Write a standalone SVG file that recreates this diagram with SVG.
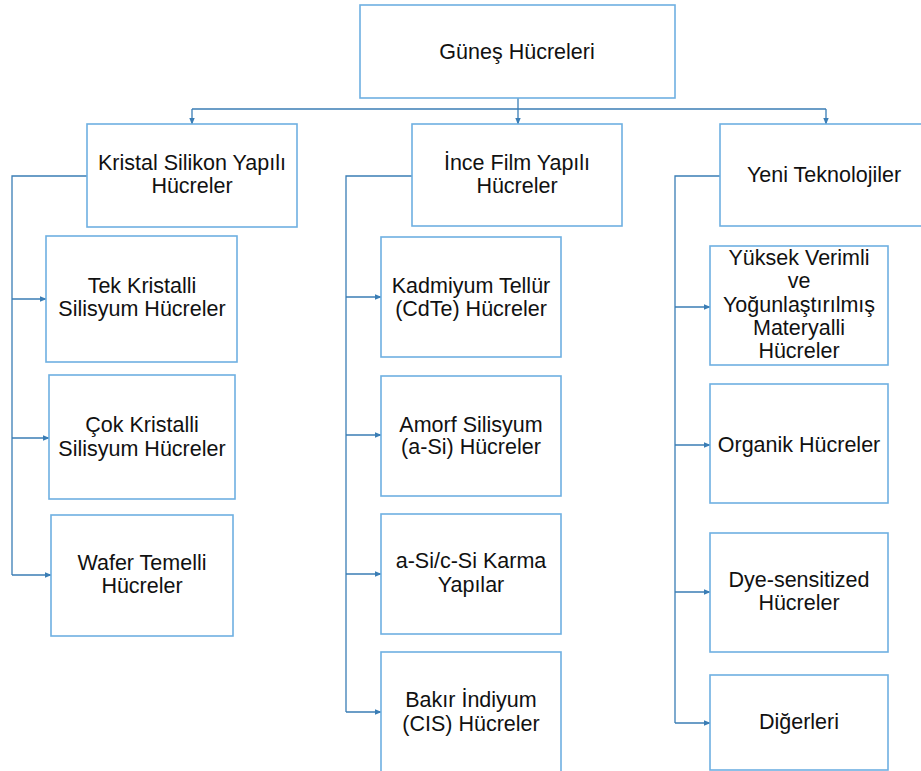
<svg xmlns="http://www.w3.org/2000/svg" width="921" height="771" viewBox="0 0 921 771">
<defs>
<style>
.box{fill:#ffffff;stroke:#6EB0E2;stroke-width:1.6}
.t{font-family:"Liberation Sans",Arial,sans-serif;font-size:21.5px;fill:#111;text-anchor:middle}
.c{fill:none;stroke:#3A7DB5;stroke-width:1.3}
</style>
<marker id="ar" viewBox="0 0 10 10" refX="9" refY="5" markerWidth="7" markerHeight="7" markerUnits="userSpaceOnUse" orient="auto">
<path d="M0,1 L10,5 L0,9 z" fill="#3A7DB5"/>
</marker>
</defs>
<rect width="921" height="771" fill="#ffffff"/>

<g id="connectors">
<path class="c" d="M518,98 V109"/>
<path class="c" d="M192,109 H826"/>
<path class="c" d="M192,109 V124" marker-end="url(#ar)"/>
<path class="c" d="M518,109 V124" marker-end="url(#ar)"/>
<path class="c" d="M826,109 V124" marker-end="url(#ar)"/>

<path class="c" d="M87,176 H12 V575"/>
<path class="c" d="M12,299 H46" marker-end="url(#ar)"/>
<path class="c" d="M12,438 H49" marker-end="url(#ar)"/>
<path class="c" d="M12,575 H51" marker-end="url(#ar)"/>

<path class="c" d="M412,176 H346 V712"/>
<path class="c" d="M346,297 H381" marker-end="url(#ar)"/>
<path class="c" d="M346,435 H381" marker-end="url(#ar)"/>
<path class="c" d="M346,574 H381" marker-end="url(#ar)"/>
<path class="c" d="M346,712 H381" marker-end="url(#ar)"/>

<path class="c" d="M720,176 H675 V723"/>
<path class="c" d="M675,307 H710" marker-end="url(#ar)"/>
<path class="c" d="M675,445 H710" marker-end="url(#ar)"/>
<path class="c" d="M675,592 H710" marker-end="url(#ar)"/>
<path class="c" d="M675,723 H710" marker-end="url(#ar)"/>
</g>

<g id="root"><rect class="box" x="360" y="5" width="315" height="93"/><text class="t" x="517" y="59">Güneş Hücreleri</text></g>

<g id="kristal"><rect class="box" x="87" y="124" width="210" height="103"/><text class="t" x="192" y="170">Kristal Silikon Yapılı</text><text class="t" x="192" y="193">Hücreler</text></g>
<g id="ince"><rect class="box" x="412" y="124" width="210" height="102"/><text class="t" x="517" y="170">İnce Film Yapılı</text><text class="t" x="517" y="193">Hücreler</text></g>
<g id="yeni"><rect class="box" x="720" y="124" width="210" height="102"/><text class="t" x="824" y="182">Yeni Teknolojiler</text></g>

<g id="tek"><rect class="box" x="46" y="236" width="191" height="126"/><text class="t" x="142" y="293">Tek Kristalli</text><text class="t" x="142" y="316">Silisyum Hücreler</text></g>
<g id="cok"><rect class="box" x="49" y="375" width="186" height="124"/><text class="t" x="142" y="432">Çok Kristalli</text><text class="t" x="142" y="456">Silisyum Hücreler</text></g>
<g id="wafer"><rect class="box" x="51" y="515" width="182" height="121"/><text class="t" x="142" y="570">Wafer Temelli</text><text class="t" x="142" y="593">Hücreler</text></g>

<g id="kadmiyum"><rect class="box" x="381" y="237" width="180" height="120"/><text class="t" x="471" y="293">Kadmiyum Tellür</text><text class="t" x="471" y="316">(CdTe) Hücreler</text></g>
<g id="amorf"><rect class="box" x="381" y="376" width="180" height="120"/><text class="t" x="471" y="432">Amorf Silisyum</text><text class="t" x="471" y="454">(a-Si) Hücreler</text></g>
<g id="karma"><rect class="box" x="381" y="514" width="180" height="120"/><text class="t" x="471" y="568">a-Si/c-Si Karma</text><text class="t" x="471" y="592">Yapılar</text></g>
<g id="bakir"><rect class="box" x="381" y="652" width="180" height="130"/><text class="t" x="471" y="707">Bakır İndiyum</text><text class="t" x="471" y="731">(CIS) Hücreler</text></g>

<g id="yuksek"><rect class="box" x="710" y="246" width="178" height="119"/><text class="t" x="799" y="265">Yüksek Verimli</text><text class="t" x="799" y="288">ve</text><text class="t" x="799" y="312">Yoğunlaştırılmış</text><text class="t" x="799" y="335">Materyalli</text><text class="t" x="799" y="358">Hücreler</text></g>
<g id="organik"><rect class="box" x="710" y="384" width="178" height="119"/><text class="t" x="799" y="452">Organik Hücreler</text></g>
<g id="dye"><rect class="box" x="710" y="533" width="178" height="119"/><text class="t" x="799" y="587">Dye-sensitized</text><text class="t" x="799" y="610">Hücreler</text></g>
<g id="digerleri"><rect class="box" x="710" y="675" width="178" height="95"/><text class="t" x="799" y="729">Diğerleri</text></g>
</svg>
